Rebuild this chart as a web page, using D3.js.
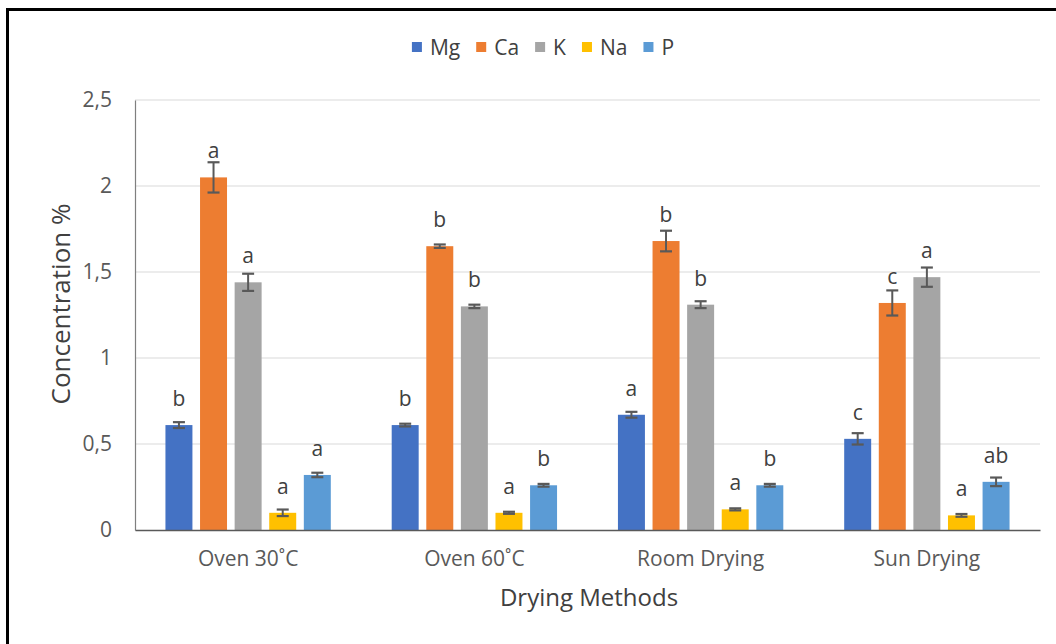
<!DOCTYPE html>
<html>
<head>
<meta charset="utf-8">
<script src="https://cdn.jsdelivr.net/npm/d3@7"></script>
<style>
  body { margin: 0; background: #fff; }
  svg { display: block; font-family: "Open Sans", Lato, sans-serif; }
  .tick text { fill: #595959; font-size: 21px; }
  .sig { fill: #404040; font-size: 21px; }
  .title { fill: #404040; }
  .legend text { fill: #404040; font-size: 21px; }
</style>
</head>
<body>
<svg width="1056" height="644"></svg>
<script>
const categories = ['Oven 30˚C', 'Oven 60˚C', 'Room Drying', 'Sun Drying'];
const seriesNames = ['Mg', 'Ca', 'K', 'Na', 'P'];
const colors = ['#4472C4', '#ED7D31', '#A5A5A5', '#FFC000', '#5B9BD5'];

const mg = [0.61, 0.61, 0.67, 0.53];
const ca = [2.05, 1.65, 1.68, 1.32];
const k = [1.44, 1.30, 1.31, 1.47];
const na = [0.10, 0.10, 0.12, 0.085];
const p = [0.32, 0.26, 0.26, 0.28];

const mgErr = [0.017, 0.008, 0.017, 0.033];
const caErr = [0.088, 0.01, 0.06, 0.073];
const kErr = [0.05, 0.01, 0.02, 0.056];
const naErr = [0.019, 0.006, 0.006, 0.008];
const pErr = [0.013, 0.008, 0.008, 0.025];

const mgSig = ['b', 'b', 'a', 'c'];
const caSig = ['a', 'b', 'b', 'c'];
const kSig = ['a', 'b', 'b', 'a'];
const naSig = ['a', 'a', 'a', 'a'];
const pSig = ['a', 'b', 'b', 'ab'];

const yTicks = [0, 0.5, 1, 1.5, 2, 2.5];

const values = [mg, ca, k, na, p];
const errors = [mgErr, caErr, kErr, naErr, pErr];
const sigs = [mgSig, caSig, kSig, naSig, pSig];

const svg = d3.select('svg');

// outer frame
svg.append('rect')
    .attr('x', 7.5).attr('y', 9.5)
    .attr('width', 1200).attr('height', 800)
    .attr('fill', 'none')
    .attr('stroke', '#000')
    .attr('stroke-width', 3);

const plotLeft = 135, plotRight = 1040, plotTop = 100, plotBottom = 530;

const xScale = d3.scaleBand()
    .domain(categories)
    .range([plotLeft, plotRight]);

const xInner = d3.scaleBand()
    .domain(seriesNames)
    .range([0, xScale.bandwidth()])
    .paddingInner(0.22)
    .paddingOuter(0.88);

const yScale = d3.scaleLinear()
    .domain([0, 2.5])
    .range([plotBottom, plotTop]);

// grid
svg.append('g')
    .selectAll('line')
    .data(yTicks.filter(d => d > 0))
    .enter()
    .append('line')
    .attr('x1', plotLeft).attr('x2', plotRight)
    .attr('y1', d => yScale(d)).attr('y2', d => yScale(d))
    .attr('stroke', '#d9d9d9')
    .attr('stroke-width', 1.2);

// y axis
const yAxis = svg.append('g')
    .attr('transform', `translate(${plotLeft}, 0)`)
    .call(d3.axisLeft(yScale)
        .tickValues(yTicks)
        .tickSize(0)
        .tickPadding(23)
        .tickFormat(d => String(d).replace('.', ',')));
yAxis.select('.domain').attr('stroke', '#7f7f7f').attr('stroke-width', 1.2);
yAxis.attr('font-family', null).attr('font-size', null);

// bars
const groups = svg.append('g')
    .selectAll('g')
    .data(categories)
    .enter()
    .append('g')
    .attr('transform', c => `translate(${xScale(c)}, 0)`);

seriesNames.forEach((s, si) => {
    const bw = xInner.bandwidth();
    const x0 = xInner(s);
    groups.append('rect')
        .attr('x', x0)
        .attr('y', (c, ci) => yScale(values[si][ci]))
        .attr('width', bw)
        .attr('height', (c, ci) => plotBottom - yScale(values[si][ci]))
        .attr('fill', colors[si]);

    const cx = x0 + bw / 2;
    groups.append('line')
        .attr('x1', cx).attr('x2', cx)
        .attr('y1', (c, ci) => yScale(values[si][ci] + errors[si][ci]))
        .attr('y2', (c, ci) => yScale(values[si][ci] - errors[si][ci]))
        .attr('stroke', '#595959').attr('stroke-width', 2);
    [1, -1].forEach(sign => {
        groups.append('line')
            .attr('x1', cx - 6).attr('x2', cx + 6)
            .attr('y1', (c, ci) => yScale(values[si][ci] + sign * errors[si][ci]))
            .attr('y2', (c, ci) => yScale(values[si][ci] + sign * errors[si][ci]))
            .attr('stroke', '#595959').attr('stroke-width', 2.2);
    });

    groups.append('text')
        .attr('class', 'sig')
        .attr('x', cx)
        .attr('y', (c, ci) => yScale(values[si][ci]) - 19)
        .attr('text-anchor', 'middle')
        .text((c, ci) => sigs[si][ci]);
});

// x axis
const xAxis = svg.append('g')
    .attr('transform', `translate(0, ${plotBottom})`)
    .call(d3.axisBottom(xScale).tickSize(0).tickPadding(21));
xAxis.select('.domain').attr('stroke', '#595959').attr('stroke-width', 1.5);
xAxis.attr('font-family', null).attr('font-size', null);

// axis titles
svg.append('text')
    .attr('class', 'title')
    .attr('font-size', 26)
    .attr('transform', 'translate(70, 304) rotate(-90)')
    .attr('text-anchor', 'middle')
    .text('Concentration %');

svg.append('text')
    .attr('class', 'title')
    .attr('font-size', 24)
    .attr('x', 589)
    .attr('y', 606)
    .attr('text-anchor', 'middle')
    .text('Drying Methods');

// legend
const legend = svg.append('g').attr('class', 'legend');
let lx = 0;
seriesNames.forEach((s, i) => {
    const item = legend.append('g').attr('transform', `translate(${lx}, 0)`);
    item.append('rect')
        .attr('x', 0).attr('y', -13)
        .attr('width', 10).attr('height', 10)
        .attr('fill', colors[i]);
    const t = item.append('text')
        .attr('x', 18).attr('y', 0)
        .text(s);
    lx += 18 + t.node().getComputedTextLength() + 16;
});
legend.attr('transform', `translate(${543 - (lx - 16) / 2}, 55)`);
</script>
</body>
</html>
